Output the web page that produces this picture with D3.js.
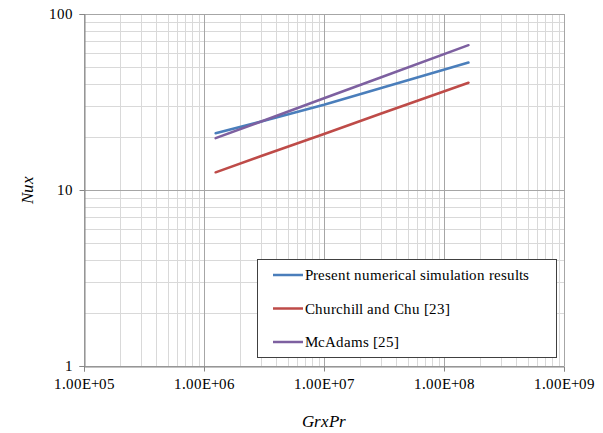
<!DOCTYPE html>
<html><head><meta charset="utf-8"><script src="https://cdn.jsdelivr.net/npm/d3@7"></script>
<style>
@font-face { font-family: "ChartSerif"; font-style: normal; font-weight: 400; src: local("Liberation Serif"), local("LiberationSerif"), local("Liberation Serif Regular"), local("LiberationSerif-Regular"); }
@font-face { font-family: "ChartSerif"; font-style: italic; font-weight: 400; src: local("Liberation Serif Italic"), local("LiberationSerif-Italic"); }
</style>
</head>
<body style="margin:0">
<svg id="s" width="603" height="433" style="display:block"></svg>
<script>
// ---- data ----
const grPr = [1.25e6, 3e6, 1e7, 3e7, 1.6e8];
const presentSim = [21.0, 24.5, 30.5, 38.0, 53.0];
const churchillChu = [12.6, 15.6, 20.8, 27.2, 40.7];
const mcAdams = [19.7, 24.5, 33.2, 43.7, 66.5];
const seriesNames = ["Present numerical simulation results", "Churchill and Chu [23]", "McAdams [25]"];
const seriesColors = ["#4a7ebb", "#be4b48", "#7d60a0"];
const xTicks = [1e5, 1e6, 1e7, 1e8, 1e9];
const xTickLabels = ["1.00E+05", "1.00E+06", "1.00E+07", "1.00E+08", "1.00E+09"];
const yTicks = [1, 10, 100];
const yTickLabels = ["1", "10", "100"];

const series = [presentSim, churchillChu, mcAdams].map((vals, i) => ({
  name: seriesNames[i], color: seriesColors[i],
  points: vals.map((v, j) => [grPr[j], v])
}));

const FAM = "font-family:ChartSerif,'Liberation Serif','Times New Roman',Tinos,Times;";

// ---- layout ----
const svg = d3.select("#s");
const pL = 84, pR = 564, pT = 14, pB = 366;
const x = d3.scaleLog().domain([1e5, 1e9]).range([pL, pR]);
const y = d3.scaleLog().domain([1, 100]).range([pB, pT]);

const minorX = [], minorY = [];
for (let d = 1e5; d < 1e9; d *= 10) for (let k = 2; k <= 9; k++) minorX.push(d * k);
for (let d = 1; d < 100; d *= 10) for (let k = 2; k <= 9; k++) minorY.push(d * k);

const grid = svg.append("g");
grid.selectAll(".mx").data(minorX).join("line")
  .attr("x1", d => Math.round(x(d)) + 0.5).attr("x2", d => Math.round(x(d)) + 0.5)
  .attr("y1", pT).attr("y2", pB).attr("stroke", "#d9d9d9").attr("stroke-width", 1);
grid.selectAll(".my").data(minorY).join("line")
  .attr("y1", d => Math.round(y(d)) + 0.5).attr("y2", d => Math.round(y(d)) + 0.5)
  .attr("x1", pL).attr("x2", pR).attr("stroke", "#d9d9d9").attr("stroke-width", 1);
grid.selectAll(".Mx").data(xTicks).join("line")
  .attr("x1", d => Math.round(x(d)) + 0.5).attr("x2", d => Math.round(x(d)) + 0.5)
  .attr("y1", pT).attr("y2", pB).attr("stroke", "#a6a6a6").attr("stroke-width", 1);
grid.selectAll(".My").data(yTicks).join("line")
  .attr("y1", d => Math.round(y(d)) + 0.5).attr("y2", d => Math.round(y(d)) + 0.5)
  .attr("x1", pL).attr("x2", pR).attr("stroke", "#a6a6a6").attr("stroke-width", 1);

// axes
const xAxis = d3.axisBottom(x).tickValues(xTicks).tickFormat((d, i) => xTickLabels[i]).tickSize(5).tickPadding(4);
const yAxis = d3.axisLeft(y).tickValues(yTicks).tickFormat((d, i) => yTickLabels[i]).tickSize(5).tickPadding(7);
const gx = svg.append("g").attr("transform", `translate(0,${pB + 0.5})`).call(xAxis);
const gy = svg.append("g").attr("transform", `translate(${pL + 0.5},0)`).call(yAxis);
[gx, gy].forEach(g => {
  g.attr("font-family", null).attr("font-size", null);
  g.select(".domain").attr("stroke", "#868686");
  g.selectAll(".tick line").attr("stroke", "#868686");
  g.selectAll(".tick text").attr("style", FAM + "font-size:15px;").attr("fill", "#000");
});
gx.selectAll(".tick text").attr("dy", "0.9em");

// lines
const line = d3.line().x(d => x(d[0])).y(d => y(d[1]));
svg.append("g").selectAll("path").data(series).join("path")
  .attr("d", d => line(d.points)).attr("fill", "none")
  .attr("stroke", d => d.color).attr("stroke-width", 2.5).attr("stroke-linecap", "round");

// axis titles
svg.append("text").attr("x", 324).attr("y", 427).attr("text-anchor", "middle")
  .attr("style", FAM + "font-size:17px;font-style:italic;").text("GrxPr");
svg.append("text").attr("transform", "translate(33,190) rotate(-90)").attr("text-anchor", "middle")
  .attr("style", FAM + "font-size:17px;font-style:italic;").text("Nux");

// legend
const lg = svg.append("g");
lg.append("rect").attr("x", 257.5).attr("y", 259.5).attr("width", 299).attr("height", 98)
  .attr("fill", "#fff").attr("stroke", "#404040").attr("stroke-width", 1);
const rows = lg.selectAll("g.row").data(series).join("g")
  .attr("transform", (d, i) => `translate(0,${275 + i * 33.5})`);
rows.append("line").attr("x1", 273).attr("x2", 303).attr("y1", 0).attr("y2", 0)
  .attr("stroke", d => d.color).attr("stroke-width", 2.5);
rows.append("text").attr("x", 305).attr("y", 0).attr("dy", "0.35em")
  .attr("style", FAM + "font-size:15px;").text(d => d.name);
</script>
</body>
</html>
